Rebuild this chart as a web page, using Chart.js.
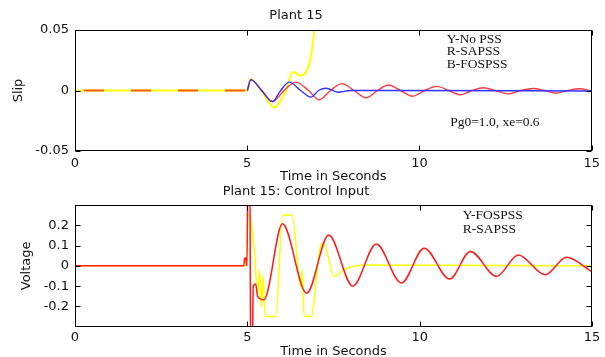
<!DOCTYPE html>
<html>
<head>
<meta charset="utf-8">
<script src="https://cdn.jsdelivr.net/npm/chart.js@4.4.1/dist/chart.umd.min.js"></script>
<style>
  html, body { margin: 0; padding: 0; background: #fff; }
  #wrap { position: relative; width: 605px; height: 357px; overflow: hidden; }
  canvas { position: absolute; left: 0; }
</style>
</head>
<body>
<div id="wrap">
  <canvas id="c1" width="605" height="185" style="top:0"></canvas>
  <canvas id="c2" width="605" height="174" style="top:183px"></canvas>
</div>
<script>
// ---------- tick labels ----------
const timeTicks = [0, 5, 10, 15];
const slipTicks = [-0.05, 0, 0.05];
const voltTicks = [-0.2, -0.1, 0, 0.1, 0.2];

// ---------- Plot 1: Slip ----------
const slipNoPssT = [0, 5.0, 5.1, 5.45, 5.78, 6.12, 6.32, 6.56, 6.8, 6.9, 7.0];
const slipNoPss  = [0, 0, 0.0092, -0.002, -0.014, 0, 0.0152, 0.0124, 0.022, 0.0386, 0.065];

const slipSapssT = [0, 5.0, 5.1, 5.42, 5.73, 6.07, 6.41, 6.78, 7.09, 7.42, 7.75, 8.1, 8.45, 8.78, 9.1, 9.45, 9.8, 10.15, 10.5, 10.85, 11.2, 11.52, 11.85, 12.2, 12.57, 12.93, 13.3, 13.63, 13.97, 14.3, 14.65, 15];
const slipSapss  = [0, 0, 0.009, 0, -0.0091, 0, 0.0069, 0, -0.0077, 0, 0.0057, 0, -0.006, 0, 0.0045, 0, -0.0047, 0, 0.0034, 0, -0.0036, 0, 0.0023, 0, -0.0028, 0, 0.0016, 0, -0.0022, 0, 0.0014, -0.0004];

const slipFospssT = [5.0, 5.1, 5.42, 5.73, 5.97, 6.22, 6.55, 6.85, 7.07, 7.29, 7.63, 8.0, 9.0, 15];
const slipFospss  = [0, 0.009, 0, -0.0092, 0, 0.0069, 0, -0.0055, 0, 0.0019, -0.0014, 0, 0, -0.0004];

// ---------- Plot 2: Control input ----------
const ctrlSapssT = [0, 4.9, 4.92, 4.95, 4.97, 4.99, 5.02, 5.07, 5.1, 5.14, 5.17, 5.24, 5.3, 5.48, 6.02, 6.72, 7.36, 8.06, 8.74, 9.47, 10.13, 10.87, 11.47, 12.23, 12.86, 13.64, 14.26, 15];
const ctrlSapss  = [0, 0, 0.035, 0.04, 0.02, 0, 0.6, 0.6, -0.6, -0.6, -0.1, -0.09, -0.15, -0.167, 0.207, -0.135, 0.152, -0.10, 0.108, -0.085, 0.087, -0.065, 0.071, -0.052, 0.054, -0.044, 0.043, -0.03];

const ctrlFospssT = [0, 4.95, 4.97, 4.99, 5.01, 5.05, 5.2, 5.3, 5.35, 5.41, 5.45, 5.52, 5.82, 6.03, 6.3, 6.55, 6.59, 6.65, 6.85, 7.1, 7.22, 7.52, 7.8, 8.1, 8.5, 10, 12, 15];
const ctrlFospss  = [0, 0, 0.04, 0.03, 0.25, 0.25, 0.08, -0.15, -0.02, -0.2, -0.05, -0.25, -0.25, 0.25, 0.25, -0.1, -0.02, -0.25, -0.25, 0.08, 0.11, -0.053, -0.02, -0.002, 0.004, 0.003, 0.002, 0];

// ---------- helpers ----------
const zip = (t, v) => t.map((x, i) => ({ x: x, y: v[i] }));
const SANS = 'DejaVu Sans';
const SERIF = 'Liberation Serif';
const TXT = '#111';

const framePlugin = {
  id: 'frame',
  afterDatasetsDraw(chart, args, opts) {
    const { ctx, chartArea: a, scales } = chart;
    ctx.save();
    ctx.strokeStyle = '#000';
    ctx.lineWidth = 1;
    const L = Math.round(a.left) + 0.5, R = Math.round(a.right) - 0.5;
    const T = Math.round(a.top) + 0.5, B = Math.round(a.bottom) - 0.5;
    ctx.strokeRect(L, T, R - L, B - T);
    const len = 5;
    ctx.beginPath();
    (opts.xTicks || []).forEach(v => {
      const px = Math.round(scales.x.getPixelForValue(v)) + 0.5;
      ctx.moveTo(px, B); ctx.lineTo(px, B - len);
      ctx.moveTo(px, T); ctx.lineTo(px, T + len);
    });
    (opts.yTicks || []).forEach(v => {
      const py = Math.round(scales.y.getPixelForValue(v)) + 0.5;
      ctx.moveTo(L, py); ctx.lineTo(L + len, py);
      ctx.moveTo(R, py); ctx.lineTo(R - len, py);
    });
    ctx.stroke();
    // annotations
    ctx.fillStyle = TXT;
    ctx.font = '13.5px "' + SERIF + '"';
    ctx.textAlign = 'left';
    ctx.textBaseline = 'middle';
    (opts.notes || []).forEach(n => {
      ctx.fillText(n.text, scales.x.getPixelForValue(n.x), scales.y.getPixelForValue(n.y));
    });
    ctx.restore();
  }
};

function makeChart(id, cfg) {
  return new Chart(document.getElementById(id), {
    type: 'line',
    data: { datasets: cfg.datasets },
    options: {
      responsive: false,
      animation: false,
      devicePixelRatio: 1,
      events: [],
      layout: { padding: { left: 0, right: 13, top: 0, bottom: 0 } },
      elements: { point: { radius: 0 }, line: { cubicInterpolationMode: 'monotone' } },
      plugins: {
        legend: { display: false },
        tooltip: { enabled: false },
        title: {
          display: true, text: cfg.title, color: TXT,
          font: { family: SANS, size: 13, weight: 'normal', lineHeight: 1.2 },
          padding: cfg.titlePad
        },
        frame: { xTicks: timeTicks, yTicks: cfg.yTicks, notes: cfg.notes }
      },
      scales: {
        x: {
          type: 'linear', min: 0, max: 15,
          afterBuildTicks: s => { s.ticks = timeTicks.map(v => ({ value: v })); },
          afterFit: s => { s.height = cfg.xHeight; },
          grid: { display: false, drawTicks: false },
          border: { display: false },
          ticks: {
            autoSkip: false, maxRotation: 0, color: TXT, padding: cfg.xTickPad,
            font: { family: SANS, size: 13 },
            callback: v => String(v)
          },
          title: {
            display: true, text: 'Time in Seconds', color: TXT,
            font: { family: SANS, size: 13, lineHeight: cfg.xTitleLH },
            padding: { top: 0, bottom: cfg.xTitlePad }
          }
        },
        y: {
          type: 'linear', min: cfg.yMin, max: cfg.yMax,
          afterBuildTicks: s => { s.ticks = cfg.yTicks.map(v => ({ value: v })); },
          afterFit: s => { s.width = 75; },
          grid: { display: false, drawTicks: false },
          border: { display: false },
          ticks: {
            autoSkip: false, color: TXT, padding: 6,
            font: { family: SANS, size: 13 },
            callback: v => String(v)
          },
          title: {
            display: true, text: cfg.yTitle, color: TXT,
            font: { family: SANS, size: 13, lineHeight: 1.2 },
            padding: { top: cfg.yTitlePad, bottom: 0 }
          }
        }
      }
    },
    plugins: [framePlugin]
  });
}

makeChart('c1', {
  title: 'Plant 15',
  titlePad: { top: 8, bottom: 6.4 },
  yTitle: 'Slip', yTitlePad: 10.5,
  yMin: -0.05, yMax: 0.05, yTicks: slipTicks,
  xHeight: 34, xTickPad: 5, xTitlePad: 2, xTitleLH: 1,
  notes: [
    { text: 'Y-No PSS', x: 10.79, y: 0.0423 },
    { text: 'R-SAPSS', x: 10.79, y: 0.0321 },
    { text: 'B-FOSPSS', x: 10.79, y: 0.0219 },
    { text: 'Pg0=1.0, xe=0.6', x: 10.89, y: -0.0266 }
  ],
  datasets: [
    { label: 'Y-No PSS', data: zip(slipNoPssT, slipNoPss), borderColor: '#ffff00', borderWidth: 2, clip: 0, order: 3 },
    { label: 'R-SAPSS', data: zip(slipSapssT, slipSapss), borderColor: 'rgb(255,60,60)', borderWidth: 1.4, clip: 0, order: 2,
      segment: {
        borderDash: c => (c.p1.parsed.x <= 5 ? [20, 27] : undefined),
        borderDashOffset: c => (c.p1.parsed.x <= 5 ? 38 : undefined),
        borderColor: c => (c.p1.parsed.x <= 5 ? 'rgb(255,90,20)' : undefined),
        borderWidth: c => (c.p1.parsed.x <= 5 ? 2 : undefined)
      } },
    { label: 'B-FOSPSS', data: zip(slipFospssT, slipFospss), borderColor: 'rgb(50,50,255)', borderWidth: 1.4, clip: 0, order: 1 }
  ]
});

makeChart('c2', {
  title: 'Plant 15: Control Input',
  titlePad: { top: 1.2, bottom: 5.2 },
  yTitle: 'Voltage', yTitlePad: 19,
  yMin: -0.3, yMax: 0.3, yTicks: voltTicks,
  xHeight: 30.3, xTickPad: 3.5, xTitlePad: 0, xTitleLH: 0.85,
  notes: [
    { text: 'Y-FOSPSS', x: 11.25, y: 0.2466 },
    { text: 'R-SAPSS', x: 11.25, y: 0.181 }
  ],
  datasets: [
    { label: 'Y-FOSPSS', data: zip(ctrlFospssT, ctrlFospss), borderColor: '#ffff00', borderWidth: 1.5, clip: 0, order: 2 },
    { label: 'R-SAPSS', data: zip(ctrlSapssT, ctrlSapss), borderColor: '#ff1a1a', borderWidth: 1.5, clip: 0, order: 1 }
  ]
});
</script>
</body>
</html>
